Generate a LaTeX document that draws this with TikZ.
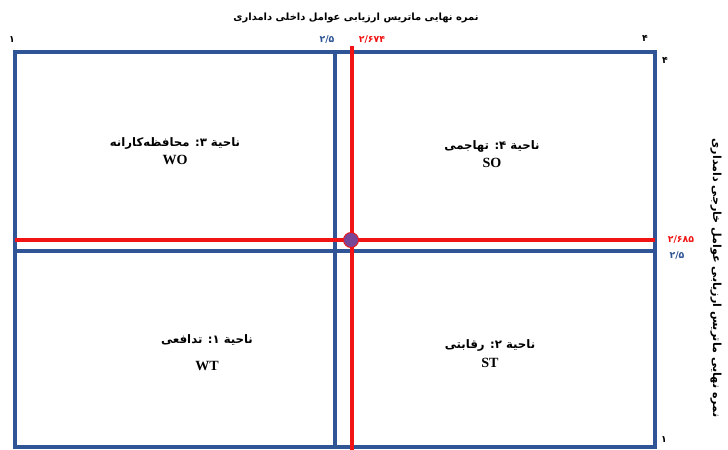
\documentclass[tikz,border=0pt]{standalone}
\usepackage{xcolor}
\usepackage{fontspec}
\setmainfont{Liberation Serif}
\newfontfamily\arabicfont[Script=Arabic]{DejaVu Sans}
\TeXXeTstate=1
\usetikzlibrary{positioning, calc}
\definecolor{matblue}{RGB}{47,85,151}
\definecolor{matred}{RGB}{240,20,20}
\definecolor{matdot}{RGB}{120,70,150}

\begin{document}
\begin{tikzpicture}[x=0.03cm, y=-0.03cm,
    frame/.style={draw=matblue, line width=3pt},
    midline/.style={draw=matblue, line width=2.8pt},
    scoreline/.style={draw=matred, line width=3.2pt},
    fa/.style={font=\arabicfont\bfseries\fontsize{10}{12}\selectfont, inner sep=1pt},
    tick/.style={font=\arabicfont\bfseries\fontsize{8}{10}\selectfont, inner sep=1pt},
    zone/.style={font=\bfseries\fontsize{12}{14}\selectfont, inner sep=1pt},
  ]
    \useasboundingbox (0,0) rectangle (728,450);

    % Corners of the matrix
    \coordinate (nw) at (15,52);
    \coordinate (se) at (655,447);

    % Outer frame and 2.5 lines
    \draw[frame] (nw) rectangle (se);
    \draw[midline] (335,52) -- (335,447);
    \draw[midline] (15,251) -- (655,251);

    % Final scores
    \draw[scoreline] (352,46) -- (352,450);
    \draw[scoreline] (15,240) -- (655,240);
    \node[circle, fill=matdot, draw=matred, line width=0.8pt,
          minimum size=0.45cm, inner sep=0pt] (dot) at (351,240) {};

    % Axis titles
    \node[fa, font=\arabicfont\bfseries\fontsize{8.5}{10}\selectfont] (xtitle) at (356,18) {\beginR نمره نهایی ماتریس ارزیابی عوامل داخلی دامداری\endR};
    \node[fa, font=\arabicfont\bfseries\fontsize{9.5}{11}\selectfont, rotate=-90] (ytitle) at (716,278) {\beginR نمره نهایی ماتریس ارزیابی عوامل خارجی دامداری\endR};

    % Top scale
    \node[tick] (x1) at (12,40) {۱};
    \node[tick, text=matblue] (x25) at (327,40) {۲/۵};
    \node[tick, text=matred] (xscore) at (372,40) {۲/۶۷۴};
    \node[tick] (x4) at (645,38) {۴};

    % Right scale
    \node[tick] (y4) at (665,60) {۴};
    \node[tick, text=matred] (yscore) at (681,240) {۲/۶۸۵};
    \node[tick, text=matblue] (y25) at (677,256) {۲/۵};
    \node[tick] (y1) at (664,440) {۱};

    % Quadrants
    \node[fa] (wofa) at (175,143) {\beginR ناحیة ۳: محافظه‌کارانه\endR};
    \node[zone, below=3pt of wofa] (wo) {WO};
    \node[fa] (sofa) at (492,146) {\beginR ناحیة ۴: تهاجمی\endR};
    \node[zone, below=3pt of sofa] (so) {SO};
    \node[fa] (wtfa) at (207,340) {\beginR ناحیة ۱: تدافعی\endR};
    \node[zone, below=11pt of wtfa] (wt) {WT};
    \node[fa] (stfa) at (490,345) {\beginR ناحیة ۲: رقابتی\endR};
    \node[zone, below=4pt of stfa] (st) {ST};
  \end{tikzpicture}
\end{document}
